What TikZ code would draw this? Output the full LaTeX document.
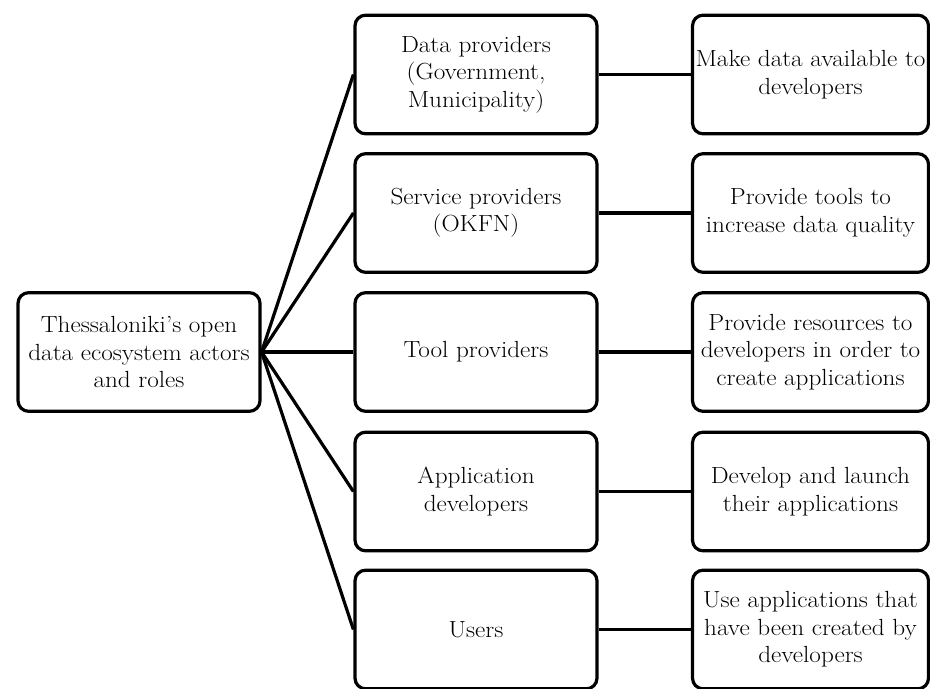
\documentclass[tikz,border=0pt]{standalone}
\usepackage{fontspec}
\setmainfont{Latin Modern Roman}[FakeStretch=1.08]
\begin{document}
\begin{tikzpicture}[x=0.75pt,y=-0.75pt,
  box/.style={draw=black, line width=2.4pt, rounded corners=8pt, fill=white,
    align=center, inner sep=1pt, minimum height=89pt,
    font=\fontsize{17.5}{20.6}\selectfont},
  midbox/.style={box, minimum width=181.5pt},
  rightbox/.style={box, minimum width=177pt},
  link/.style={draw=black, line width=2.4pt}]
\useasboundingbox (0,0) rectangle (930,688);
\node[box, minimum width=181.5pt] (root) at (139,352) {Thessaloniki's open\\data ecosystem actors\\and roles};
\node[midbox] (m1) at (476,74.5) {Data providers\\(Government,\\Municipality)};
\node[midbox] (m2) at (476,213) {Service providers\\(OKFN)};
\node[midbox] (m3) at (476,352) {Tool providers};
\node[midbox] (m4) at (476,491.5) {Application\\developers};
\node[midbox] (m5) at (476,629.5) {Users};
\node[rightbox] (r1) at (810.5,74.5) {Make data available to\\developers};
\node[rightbox] (r2) at (810.5,213) {Provide tools to\\increase data quality};
\node[rightbox] (r3) at (810.5,352) {Provide resources to\\developers in order to\\create applications};
\node[rightbox] (r4) at (810.5,491.5) {Develop and launch\\their applications};
\node[rightbox] (r5) at (810.5,629.5) {Use applications that\\have been created by\\developers};
\foreach \i in {1,...,5}{
  \draw[link] (root.east) -- (m\i.west);
  \draw[link] (m\i.east) -- (r\i.west);
}
\end{tikzpicture}
\end{document}
